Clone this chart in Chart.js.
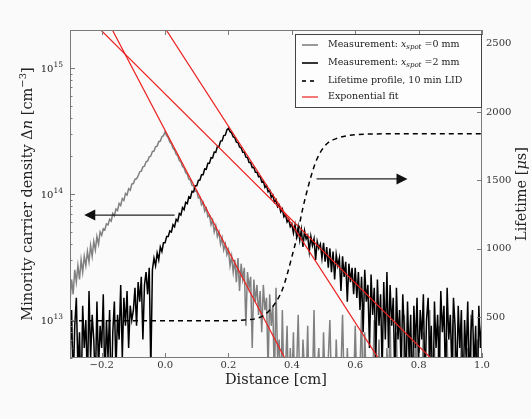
<!DOCTYPE html>
<html>
<head>
<meta charset="utf-8">
<script src="https://cdn.jsdelivr.net/npm/chart.js@4.4.0/dist/chart.umd.min.js"></script>
<style>
  html, body { margin: 0; padding: 0; background: #fafafa; }
  #wrap { width: 531px; height: 419px; }
</style>
</head>
<body>
<div id="wrap"><canvas id="profile" width="531" height="419"></canvas></div>
<script>
// Distance grid of the measured profiles (cm)
const X_START = -0.3;
const X_STEP = 0.005;

// Measured carrier density, x_spot = 0 mm (units of 1e12 cm^-3), one row per 0.1 cm
const grayN = [
  14, 21, 16, 25, 20, 27, 21, 30, 24, 32, 27, 35, 29, 39, 32, 42, 36, 46, 40, 50,
  47, 53, 52, 58, 57, 63, 61, 70, 67, 76, 74, 84, 81, 92, 89, 101, 98, 110, 107, 120,
  121, 131, 132, 139, 150, 152, 164, 166, 180, 183, 197, 200, 217, 219, 237, 240, 260, 263, 285, 290,
  312, 290, 279, 258, 250, 230, 224, 206, 201, 184, 180, 165, 161, 147, 144, 131, 129, 117, 116, 105,
  105, 93, 94, 82, 86, 73, 77, 66, 68, 57, 62, 50, 56, 46, 50, 40, 45, 36, 40, 33,
  36, 27, 32, 24, 30, 20, 31, 17, 28, 21, 26, 9, 24, 18, 22, 6, 21, 14, 19, 11,
  17, 8, 19, 12, 15, 4, 16, 9, 13, 3, 18, 5, 7, 2, 12, 3, 4, 9, 2, 6,
  3, 8, 2, 4, 11, 3, 2, 7, 4, 3, 9, 2, 5, 3, 12, 2, 4, 6, 3, 2,
  8, 3, 2, 5, 10, 3, 4, 2, 7, 3, 2, 4, 11, 3, 2, 6, 3, 4, 2, 3,
  9, 3, 2, 4, 12, 2, 8, 3, 5, 2, 4, 3, 10, 2, 3, 7, 2, 4, 3, 2,
  6, 3, 10, 2, 4, 3, 8, 2, 3, 5, 2, 11, 3, 4, 2, 7, 3, 2, 9, 3,
  2, 5, 3, 8, 2, 4, 3, 12, 2, 3, 6, 2, 4, 9, 3, 2, 5, 3, 7, 2,
  4, 3, 10, 2, 5, 3, 2, 8, 3, 4, 2, 6, 3, 11, 2, 4, 3, 7, 2, 5,
  3
];

// Measured carrier density, x_spot = 2 mm (units of 1e12 cm^-3)
const blackN = [
  5, 12, 3, 9, 15, 4, 8, 2, 13, 6, 10, 3, 17, 5, 11, 7, 3, 14, 4, 9,
  6, 16, 3, 10, 5, 12, 2, 8, 14, 4, 11, 7, 19, 5, 15, 9, 17, 6, 13, 10,
  12, 18, 9, 20, 14, 22, 7, 19, 24, 16, 26, 4, 25, 31, 27, 34, 30, 38, 35, 41,
  41, 46, 46, 51, 50, 57, 55, 63, 61, 70, 68, 78, 75, 86, 84, 95, 93, 105, 104, 116,
  116, 128, 129, 142, 142, 158, 157, 175, 175, 194, 193, 215, 214, 238, 237, 263, 264, 291, 293, 322,
  332, 312, 305, 284, 280, 258, 256, 236, 233, 214, 214, 196, 195, 178, 178, 162, 163, 149, 149, 137,
  138, 125, 127, 113, 117, 104, 107, 94, 98, 86, 90, 79, 82, 72, 76, 66, 69, 60, 63, 55,
  58, 49, 57, 46, 55, 43, 52, 38, 51, 44, 47, 35, 46, 39, 44, 30, 42, 37, 40, 31,
  41, 29, 38, 26, 37, 24, 35, 21, 33, 27, 31, 17, 32, 22, 29, 14, 28, 20, 26, 16,
  26, 15, 24, 12, 22, 8, 25, 14, 19, 6, 23, 11, 18, 5, 21, 9, 16, 4, 20, 7,
  24, 6, 19, 9, 15, 3, 18, 7, 12, 4, 16, 8, 3, 14, 5, 11, 2, 13, 6, 15,
  4, 12, 7, 16, 3, 10, 15, 5, 9, 2, 14, 6, 11, 4, 17, 8, 13, 3, 18, 7,
  11, 4, 15, 9, 3, 13, 6, 12, 2, 10, 5, 14, 3, 8, 12, 4, 9, 2, 13, 6,
  10
];

const distance = grayN.map((_, i) => +(X_START + i * X_STEP).toFixed(3));

// Lifetime profile after 10 min LID (µs)
const lifetimeX = [-0.3, 0.2, 0.25, 0.29, 0.31, 0.33, 0.35, 0.37, 0.385, 0.4, 0.415, 0.435,
                   0.45, 0.465, 0.48, 0.5, 0.52, 0.54, 0.57, 0.6, 0.7, 1.0];
const lifetimeUs = [472, 473, 478, 490, 510, 550, 610, 700, 810, 940, 1076, 1300,
                    1440, 1564, 1660, 1740, 1785, 1805, 1825, 1834, 1840, 1840];

// Exponential fits (straight on the log axis), two end points each
const fitGrayX = [-0.2, 0.4];
const fitGrayN = [2.9e15, 3.9e12];
const fitPeakX = [-0.05, 0.7];
const fitPeakN = [3.24e15, 3.9e12];
const fitTailX = [-0.3, 0.9];
const fitTailN = [3.5e15, 3.5e12];

// Axis ticks
const xTicks = [-0.2, 0, 0.2, 0.4, 0.6, 0.8, 1.0];
const densityTicks = [1e13, 1e14, 1e15];
const lifetimeTicks = [500, 1000, 1500, 2000, 2500];

// Arrows pointing to the axis each curve belongs to
const leftArrow = { y: 6.8e13, from: 0.03, to: -0.255 };
const rightArrow = { y: 1510, from: 0.478, to: 0.765 };

const SERIF = '"DejaVu Serif", serif';
const RED = '#ec1f1f';

const pts = (xs, ys, k = 1) => xs.map((x, i) => ({ x: x, y: ys[i] * k }));

// draws a run of differently styled pieces: [text, size, style, dy]
function richText(ctx, parts, x, y, align) {
  const font = p => `${p[2] || ''} ${p[1]}px ${SERIF}`;
  let w = 0;
  parts.forEach(p => { ctx.font = font(p); w += ctx.measureText(p[0]).width; });
  let cx = align === 'center' ? x - w / 2 : align === 'right' ? x - w : x;
  parts.forEach(p => {
    ctx.font = font(p);
    ctx.fillText(p[0], cx, y + (p[3] || 0));
    cx += ctx.measureText(p[0]).width;
  });
}

function seg(ctx, x1, y1, x2, y2) {
  ctx.beginPath();
  ctx.moveTo(x1, y1);
  ctx.lineTo(x2, y2);
  ctx.stroke();
}

function arrow(ctx, x1, x2, y) {
  const dir = Math.sign(x2 - x1);
  ctx.strokeStyle = '#222';
  ctx.fillStyle = '#111';
  ctx.lineWidth = 1.2;
  seg(ctx, x1, y, x2 - dir * 9, y);
  ctx.beginPath();
  ctx.moveTo(x2, y);
  ctx.lineTo(x2 - dir * 11, y - 5.5);
  ctx.lineTo(x2 - dir * 11, y + 5.5);
  ctx.closePath();
  ctx.fill();
}

const decor = {
  id: 'decor',
  beforeDraw(chart) {
    const ctx = chart.ctx;
    ctx.save();
    ctx.fillStyle = '#fafafa';
    ctx.fillRect(0, 0, chart.width, chart.height);
    ctx.restore();
  },
  afterDraw(chart) {
    const { ctx, chartArea: a, scales } = chart;
    const x = scales.x, y = scales.y, y2 = scales.y2;
    ctx.save();

    // arrows
    const ly = y.getPixelForValue(leftArrow.y);
    arrow(ctx, x.getPixelForValue(leftArrow.from), x.getPixelForValue(leftArrow.to), ly);
    const ry = y2.getPixelForValue(rightArrow.y);
    arrow(ctx, x.getPixelForValue(rightArrow.from), x.getPixelForValue(rightArrow.to), ry);

    // frame and inward ticks
    ctx.strokeStyle = '#7a7a7a';
    ctx.lineWidth = 1;
    ctx.strokeRect(a.left + 0.5, a.top + 0.5, a.right - a.left - 1, a.bottom - a.top - 1);
    xTicks.forEach(v => {
      const px = Math.round(x.getPixelForValue(v)) + 0.5;
      seg(ctx, px, a.bottom, px, a.bottom - 5);
      seg(ctx, px, a.top, px, a.top + 5);
    });
    for (let e = 12; e <= 15; e++) {
      for (let m = 1; m <= 9; m++) {
        const v = m * Math.pow(10, e);
        if (v < y.min || v > y.max) continue;
        const py = Math.round(y.getPixelForValue(v)) + 0.5;
        seg(ctx, a.left, py, a.left + (m === 1 ? 5 : 2.5), py);
      }
    }
    lifetimeTicks.forEach(v => {
      const py = Math.round(y2.getPixelForValue(v)) + 0.5;
      seg(ctx, a.right, py, a.right - 5, py);
    });

    ctx.fillStyle = '#222';
    ctx.textBaseline = 'middle';

    // decade labels of the density axis, 10 with a raised exponent
    densityTicks.forEach(v => {
      const py = y.getPixelForValue(v);
      richText(ctx, [['10', 10], [String(Math.round(Math.log10(v))), 7.5, '', -4]], a.left - 7, py + 1, 'right');
    });

    // axis titles
    richText(ctx, [['Distance [cm]', 14.5]], (a.left + a.right) / 2, 380, 'center');

    ctx.save();
    ctx.translate(28, (a.top + a.bottom) / 2);
    ctx.rotate(-Math.PI / 2);
    richText(ctx, [['Minority carrier density Δ', 14.5], ['n', 14.5, 'italic'], [' [cm', 14.5],
      ['−3', 10, '', -5], [']', 14.5]], 0, 0, 'center');
    ctx.restore();

    ctx.save();
    ctx.translate(522, (a.top + a.bottom) / 2);
    ctx.rotate(-Math.PI / 2);
    richText(ctx, [['Lifetime [', 14.5], ['μ', 14.5, 'italic'], ['s]', 14.5]], 0, 0, 'center');
    ctx.restore();

    // legend
    const bx = 295, by = 34, bw = 186, bh = 73;
    ctx.fillStyle = '#fdfdfd';
    ctx.fillRect(bx, by, bw, bh);
    ctx.strokeStyle = '#444';
    ctx.strokeRect(bx + 0.5, by + 0.5, bw, bh);
    const rows = [
      { color: '#808080', dash: [], parts: [['Measurement: ', 9.5], ['x', 9.5, 'italic'], ['spot', 7, 'italic', 2], [' =0 mm', 9.5]] },
      { color: '#000', dash: [], parts: [['Measurement: ', 9.5], ['x', 9.5, 'italic'], ['spot', 7, 'italic', 2], [' =2 mm', 9.5]] },
      { color: '#000', dash: [4, 4], parts: [['Lifetime profile, 10 min LID', 9.5]] },
      { color: RED, dash: [], parts: [['Exponential fit', 9.5]] }
    ];
    const rowY = [45, 63, 81, 97];
    rows.forEach((r, i) => {
      ctx.strokeStyle = r.color;
      ctx.lineWidth = i === 3 ? 1.2 : 1.6;
      ctx.setLineDash(r.dash);
      seg(ctx, 302, rowY[i], 318, rowY[i]);
      ctx.setLineDash([]);
      ctx.fillStyle = '#222';
      richText(ctx, r.parts, 328, rowY[i], 'left');
    });

    ctx.restore();
  }
};

const tickFont = { family: SERIF, size: 10 };
const noGrid = { display: false, drawTicks: false, tickLength: 0 };

new Chart(document.getElementById('profile'), {
  type: 'line',
  data: {
    datasets: [
      {
        data: pts(lifetimeX, lifetimeUs), yAxisID: 'y2',
        borderColor: '#000', borderWidth: 1.5, borderDash: [5, 4],
        cubicInterpolationMode: 'monotone'
      },
      { data: pts(fitTailX, fitTailN), yAxisID: 'y', borderColor: RED, borderWidth: 1.2 },
      { data: pts(fitPeakX, fitPeakN), yAxisID: 'y', borderColor: RED, borderWidth: 1.2 },
      { data: pts(fitGrayX, fitGrayN), yAxisID: 'y', borderColor: RED, borderWidth: 1.2 },
      { data: pts(distance, blackN, 1e12), yAxisID: 'y', borderColor: '#000', borderWidth: 1.5 },
      { data: pts(distance, grayN, 1e12), yAxisID: 'y', borderColor: '#808080', borderWidth: 1.5 }
    ]
  },
  options: {
    responsive: false,
    animation: false,
    devicePixelRatio: 1,
    layout: { padding: { top: 30 } },
    elements: { point: { radius: 0, hoverRadius: 0 }, line: { tension: 0, fill: false } },
    plugins: { legend: { display: false }, tooltip: { enabled: false } },
    scales: {
      x: {
        type: 'linear', min: -0.3, max: 1.0,
        grid: noGrid, border: { display: false },
        afterBuildTicks: s => { s.ticks = xTicks.map(v => ({ value: v })); },
        afterFit: s => { s.height = 61; },
        ticks: {
          font: tickFont, color: '#333', padding: 1, maxRotation: 0,
          callback: v => v.toFixed(1).replace('-', '−')
        }
      },
      y: {
        type: 'logarithmic', position: 'left', min: 5e12, max: 2e15,
        grid: noGrid, border: { display: false },
        afterBuildTicks: s => { s.ticks = densityTicks.map(v => ({ value: v })); },
        afterFit: s => { s.width = 70; },
        ticks: { display: false }
      },
      y2: {
        type: 'linear', position: 'right', min: 200, max: 2600,
        grid: noGrid, border: { display: false },
        afterBuildTicks: s => { s.ticks = lifetimeTicks.map(v => ({ value: v })); },
        afterFit: s => { s.width = 49; },
        ticks: { font: tickFont, color: '#333', padding: 4, callback: v => String(v) }
      }
    }
  },
  plugins: [decor]
});
</script>
</body>
</html>
